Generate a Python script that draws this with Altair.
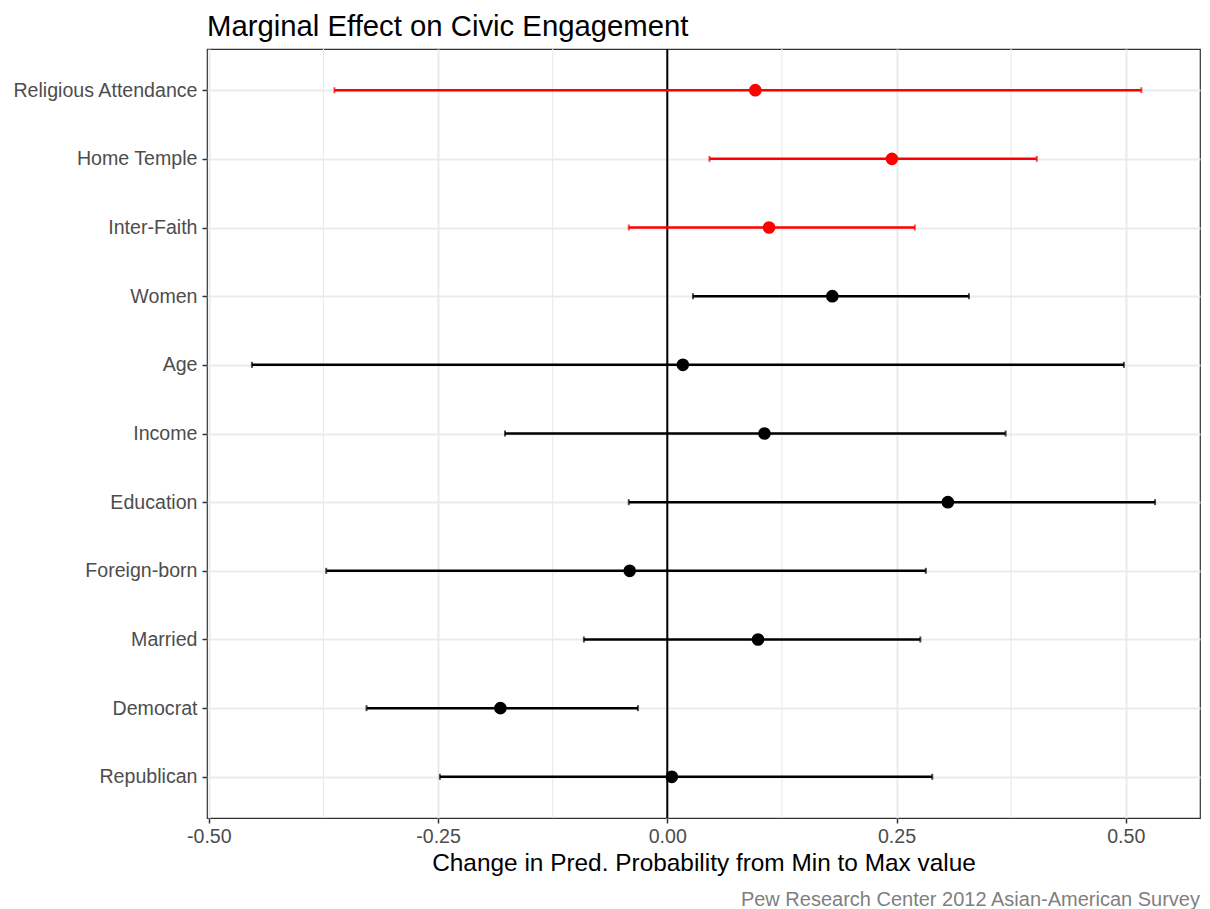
import altair as alt
import pandas as pd

# ---- data ----
terms = ["Religious Attendance", "Home Temple", "Inter-Faith", "Women", "Age", "Income",
         "Education", "Foreign-born", "Married", "Democrat", "Republican"]
estimate = [0.096, 0.245, 0.111, 0.180, 0.017, 0.106, 0.306, -0.041, 0.099, -0.182, 0.005]
lower = [-0.363, 0.046, -0.042, 0.028, -0.453, -0.177, -0.042, -0.372, -0.091, -0.328, -0.248]
upper = [0.517, 0.403, 0.270, 0.329, 0.498, 0.369, 0.532, 0.282, 0.276, -0.032, 0.289]
group = ["Religion"] * 3 + ["Control"] * 8

major_breaks = [-0.50, -0.25, 0.00, 0.25, 0.50]
minor_breaks = [-0.375, -0.125, 0.125, 0.375]
zero_line = [0.0]
x_domain = [-0.502, 0.581]

title_text = "Marginal Effect on Civic Engagement"
x_title = "Change in Pred. Probability from Min to Max value"
caption_text = "Pew Research Center 2012 Asian-American Survey"

FONT = "Liberation Sans"
W, H = 993, 769

df = pd.DataFrame(dict(term=terms, estimate=estimate, lower=lower, upper=upper, group=group))
minor_df = pd.DataFrame({"minor": minor_breaks})
zero_df = pd.DataFrame({"zero": zero_line})
cap_df = pd.DataFrame({"caption": [caption_text]})

x_scale = alt.Scale(domain=x_domain, nice=False, zero=False)
y_scale = alt.Scale(type="point", padding=0.6)
color_scale = alt.Scale(domain=["Religion", "Control"], range=["#FF0000", "#000000"])

x_axis = alt.Axis(
    values=major_breaks,
    labelExpr="(datum.value < 0 ? '-' : '') + format(abs(datum.value), '.2f')",
    grid=True,
    title=x_title,
    titlePadding=6,
    labelPadding=4,
)
y_axis = alt.Axis(grid=True, title=None, labelPadding=5, labelLimit=400)

y_enc = alt.Y("term:N", sort=terms, scale=y_scale, axis=y_axis)

minor = alt.Chart(minor_df).mark_rule(color="#EBEBEB", strokeWidth=1.2).encode(
    x=alt.X("minor:Q", scale=x_scale, axis=x_axis)
)

zero = alt.Chart(zero_df).mark_rule(color="#000000", strokeWidth=2).encode(
    x=alt.X("zero:Q", scale=x_scale, axis=x_axis)
)

bars = alt.Chart(df).mark_rule(strokeWidth=2.5).encode(
    x=alt.X("lower:Q", scale=x_scale, axis=x_axis),
    x2="upper:Q",
    y=y_enc,
    color=alt.Color("group:N", scale=color_scale, legend=None),
)

caps = alt.Chart(df).transform_fold(["lower", "upper"], as_=["end", "val"]).mark_tick(
    thickness=2, size=6
).encode(
    x=alt.X("val:Q", scale=x_scale, axis=x_axis),
    y=y_enc,
    color=alt.Color("group:N", scale=color_scale, legend=None),
)

points = alt.Chart(df).mark_circle(size=160, opacity=1).encode(
    x=alt.X("estimate:Q", scale=x_scale, axis=x_axis),
    y=y_enc,
    color=alt.Color("group:N", scale=color_scale, legend=None),
)

caption = alt.Chart(cap_df).mark_text(
    align="right", baseline="alphabetic", font=FONT, fontSize=20, color="#7F7F7F"
).encode(
    text="caption:N",
    x=alt.value(W),
    y=alt.value(H + 88),
)

chart = alt.layer(minor, zero, bars, caps, points, caption).properties(
    width=W,
    height=H,
    padding={"left": 199, "top": 41, "right": 2, "bottom": 95},
    autosize=alt.AutoSizeParams(type="none"),
    title=alt.TitleParams(
        title_text, anchor="start", frame="group", fontSize=29.3, font=FONT,
        fontWeight="normal", color="#000000", offset=6,
    ),
).configure_view(
    stroke="#333333", strokeWidth=1.2
).configure_axis(
    domain=False,
    tickColor="#333333",
    tickSize=5,
    tickWidth=1.5,
    labelColor="#4D4D4D",
    labelFont=FONT,
    labelFontSize=19.6,
    titleFont=FONT,
    titleFontSize=24.4,
    titleColor="#000000",
    titleFontWeight="normal",
    gridColor="#EBEBEB",
    gridWidth=2,
)

chart.save("out.html", embed_options={"renderer": "svg", "actions": False})
